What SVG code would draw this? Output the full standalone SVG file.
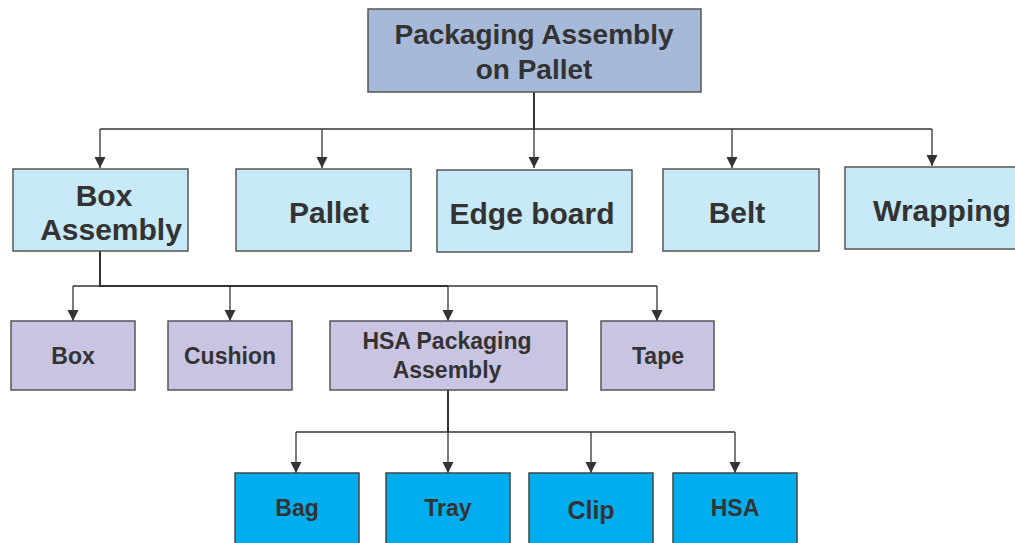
<svg xmlns="http://www.w3.org/2000/svg" width="1015" height="543" viewBox="0 0 1015 543">
<style>
  .t{font-family:"Liberation Sans",Arial,sans-serif;font-weight:bold;fill:#333;text-anchor:middle}
  .l1{fill:#a6b9d9;stroke:#555;stroke-width:1.5}
  .l2{fill:#c7e9f8;stroke:#555;stroke-width:1.5}
  .l3{fill:#c9c4e2;stroke:#555;stroke-width:1.5}
  .l4{fill:#00adee;stroke:#444;stroke-width:1.5}
  .c{fill:none;stroke:#333;stroke-width:1.3}
  .trunk{fill:none;stroke:#333;stroke-width:2}
</style>
<defs>
  <marker id="ah" viewBox="0 0 10 10" refX="10" refY="5" markerWidth="11" markerHeight="12" markerUnits="userSpaceOnUse" orient="auto">
    <path d="M0,0 L10,5 L0,10 z" fill="#333"/>
  </marker>
</defs>
<rect width="1015" height="543" fill="#fff"/>
<g id="connectors">
  <path class="trunk" d="M534,92 V129" />
  <path class="c" d="M100,129 H932" />
  <path class="c" d="M100,129 V168" marker-end="url(#ah)"/>
  <path class="c" d="M322,129 V168" marker-end="url(#ah)"/>
  <path class="c" d="M534,129 V168" marker-end="url(#ah)"/>
  <path class="c" d="M732,129 V168" marker-end="url(#ah)"/>
  <path class="c" d="M932,129 V166" marker-end="url(#ah)"/>
  <path class="trunk" d="M100,251 V286 H448" />
  <path class="c" d="M73,286 H657" />
  <path class="c" d="M73,286 V321" marker-end="url(#ah)"/>
  <path class="c" d="M230,286 V321" marker-end="url(#ah)"/>
  <path class="c" d="M448,286 V321" marker-end="url(#ah)"/>
  <path class="c" d="M657,286 V321" marker-end="url(#ah)"/>
  <path class="trunk" d="M448,390 V432" />
  <path class="c" d="M296,432 H735" />
  <path class="c" d="M296,432 V473" marker-end="url(#ah)"/>
  <path class="c" d="M448,432 V473" marker-end="url(#ah)"/>
  <path class="c" d="M591,432 V473" marker-end="url(#ah)"/>
  <path class="c" d="M735,432 V473" marker-end="url(#ah)"/>
</g>
<g id="n-root">
  <rect class="l1" x="368" y="9" width="333" height="83"/>
  <text class="t" x="534" y="44" font-size="28">Packaging Assembly</text>
  <text class="t" x="534" y="79" font-size="28">on Pallet</text>
</g>
<g id="n-boxassembly">
  <rect class="l2" x="13" y="169" width="175" height="82"/>
  <text class="t" x="104" y="206" font-size="30">Box</text>
  <text class="t" x="111" y="240" font-size="30">Assembly</text>
</g>
<g id="n-pallet">
  <rect class="l2" x="236" y="169" width="175" height="82"/>
  <text class="t" x="329" y="223" font-size="30">Pallet</text>
</g>
<g id="n-edgeboard">
  <rect class="l2" x="437" y="170" width="195" height="82"/>
  <text class="t" x="532" y="224" font-size="30">Edge board</text>
</g>
<g id="n-belt">
  <rect class="l2" x="663" y="169" width="156" height="82"/>
  <text class="t" x="737" y="223" font-size="30">Belt</text>
</g>
<g id="n-wrapping">
  <rect class="l2" x="845" y="167" width="175" height="82"/>
  <text class="t" x="942" y="221" font-size="30">Wrapping</text>
</g>
<g id="n-box">
  <rect class="l3" x="11" y="321" width="124" height="69"/>
  <text class="t" x="73" y="364" font-size="23">Box</text>
</g>
<g id="n-cushion">
  <rect class="l3" x="168" y="321" width="124" height="69"/>
  <text class="t" x="230" y="364" font-size="23">Cushion</text>
</g>
<g id="n-hsapkg">
  <rect class="l3" x="330" y="321" width="237" height="69"/>
  <text class="t" x="447" y="349" font-size="23">HSA Packaging</text>
  <text class="t" x="447" y="378" font-size="23">Assembly</text>
</g>
<g id="n-tape">
  <rect class="l3" x="601" y="321" width="113" height="69"/>
  <text class="t" x="658" y="364" font-size="23">Tape</text>
</g>
<g id="n-bag">
  <rect class="l4" x="235" y="473" width="124" height="72"/>
  <text class="t" x="297" y="516" font-size="23">Bag</text>
</g>
<g id="n-tray">
  <rect class="l4" x="386" y="473" width="124" height="72"/>
  <text class="t" x="448" y="516" font-size="23">Tray</text>
</g>
<g id="n-clip">
  <rect class="l4" x="529" y="473" width="124" height="72"/>
  <text class="t" x="591" y="519" font-size="25">Clip</text>
</g>
<g id="n-hsa">
  <rect class="l4" x="673" y="473" width="124" height="72"/>
  <text class="t" x="735" y="516" font-size="23">HSA</text>
</g>
</svg>
